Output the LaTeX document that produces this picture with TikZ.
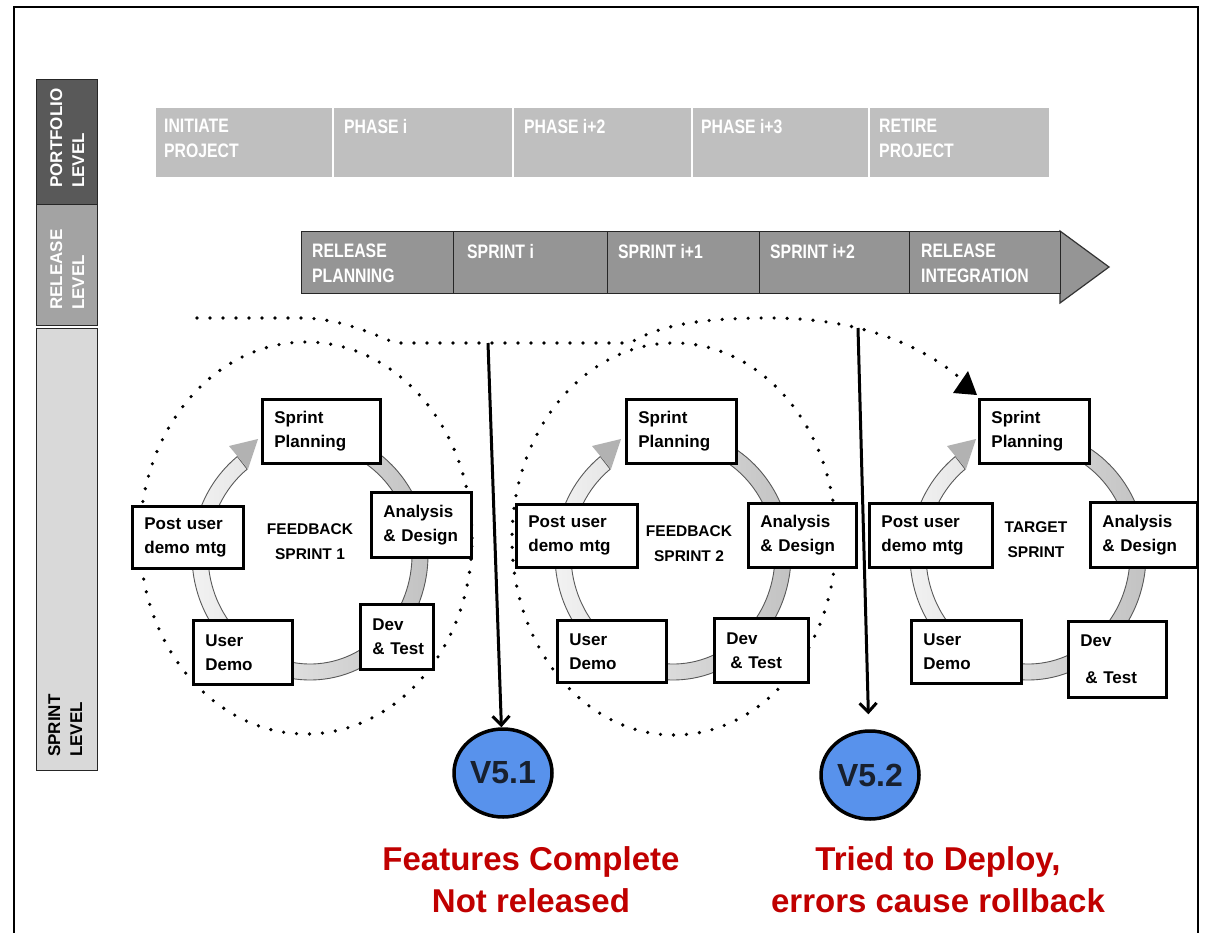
\documentclass[tikz,border=0pt]{standalone}
\usepackage{fontspec}
\setmainfont{Liberation Sans}
\newfontfamily\narrowsans[FakeStretch=0.81]{Liberation Sans}
\usetikzlibrary{shadows,arrows.meta,shapes.geometric}
\definecolor{portgray}{HTML}{595959}
\definecolor{relgray}{HTML}{A3A3A3}
\definecolor{sprgray}{HTML}{D9D9D9}
\definecolor{phasegray}{HTML}{BFBFBF}
\definecolor{bargray}{HTML}{959595}
\definecolor{vblue}{RGB}{88,146,236}
\definecolor{vtext}{HTML}{18202E}
\definecolor{darkred}{HTML}{C00000}
\begin{document}
\begin{tikzpicture}[x=1pt,y=-1pt,
  lvl/.style={draw=black!85, line width=1pt, anchor=north west, inner sep=0pt, minimum width=61pt},
  lvltxt/.style={rotate=90, anchor=north west, inner sep=0pt, align=left, font=\bfseries\fontsize{17}{22}\selectfont},
  phase/.style={fill=phasegray, draw=white, line width=1.5pt, anchor=north west, minimum height=70pt, inner sep=0pt},
  phtxt/.style={text=white, anchor=north west, inner sep=0pt, align=left, font=\narrowsans\bfseries\fontsize{19.5}{25}\selectfont},
  relseg/.style={fill=bargray, draw=black!85, line width=1.2pt, anchor=north west, minimum height=62pt, inner sep=0pt},
  cbox/.style={draw=black, line width=2.8pt, fill=white, anchor=north west, inner xsep=12pt, inner ysep=0pt, align=left, font=\bfseries\fontsize{17}{24}\selectfont, drop shadow={shadow xshift=2pt, shadow yshift=-2pt, opacity=0.3}},
  ctr/.style={anchor=north, inner sep=0pt, align=center, font=\bfseries\fontsize{15.5}{25}\selectfont},
  dotline/.style={line width=3.6pt, dash pattern=on 0pt off 13pt, line cap=round},
  ringband/.style={left color=gray!8, right color=gray!50, draw=black!65, line width=0.9pt},
  varrow/.style={line width=3pt, -{Straight Barb[length=9pt,width=17pt]}},
  vnode/.style={ellipse, draw=black, line width=3.5pt, fill=vblue, minimum width=98pt, minimum height=88pt, inner sep=0pt, text=vtext, font=\bfseries\fontsize{32}{36}\selectfont},
  redtxt/.style={anchor=north, inner sep=0pt, align=center, text=darkred, font=\bfseries\fontsize{33}{42}\selectfont},
  pics/ring/.style={code={
    \path[ringband] (128:118pt and 125pt) arc[start angle=128, end angle=440, x radius=118pt, y radius=125pt]
      -- (440:102pt and 109pt) arc[start angle=440, end angle=128, x radius=102pt, y radius=109pt] -- cycle;
    \fill[gray!60] (-81,-109) -- (-52,-116) -- (-62,-86) -- cycle;
  }}
]
\useasboundingbox (0,0) rectangle (1206,933);
\fill[white] (0,0) rectangle (1206,933);
% frame
\draw[line width=2pt] (14,945) -- (14,7) -- (1198,7) -- (1198,945);

% level column
\node[lvl, fill=portgray, minimum height=125pt] (lport) at (36,79) {};
\node[lvl, fill=relgray, minimum height=121pt] (lrel) at (36,204) {};
\node[lvl, fill=sprgray, minimum height=442pt] (lspr) at (36,328) {};
\node[lvltxt, text=white] (tport) at (50,188) {PORTFOLIO\\LEVEL};
\node[lvltxt, text=white] (trel) at (50,310) {RELEASE\\LEVEL};
\node[lvltxt, text=black] (tspr) at (48,757) {SPRINT\\LEVEL};

% portfolio phases
\node[phase, minimum width=178pt] (p1) at (154,107) {};
\node[phase, minimum width=180pt] (p2) at (332,107) {};
\node[phase, minimum width=179pt] (p3) at (512,107) {};
\node[phase, minimum width=177pt] (p4) at (691,107) {};
\node[phase, minimum width=181pt] (p5) at (868,107) {};
\node[phtxt] (tp1) at (164,119) {INITIATE\\PROJECT};
\node[phtxt] (tp2) at (344,119) {PHASE i};
\node[phtxt] (tp3) at (524,119) {PHASE i+2};
\node[phtxt] (tp4) at (701,119) {PHASE i+3};
\node[phtxt] (tp5) at (879,119) {RETIRE\\PROJECT};

% release bar
\draw[fill=bargray, draw=black!80, line width=1.2pt] (1060,231) -- (1109,267) -- (1060,303) -- cycle;
\node[relseg, minimum width=152pt] (r1) at (301,231) {};
\node[relseg, minimum width=154pt] (r2) at (453,231) {};
\node[relseg, minimum width=152pt] (r3) at (607,231) {};
\node[relseg, minimum width=150pt] (r4) at (759,231) {};
\node[relseg, minimum width=151pt] (r5) at (909,231) {};
\node[phtxt] (tr1) at (312,244) {RELEASE\\PLANNING};
\node[phtxt] (tr2) at (467,244) {SPRINT i};
\node[phtxt] (tr3) at (618,244) {SPRINT i+1};
\node[phtxt] (tr4) at (770,244) {SPRINT i+2};
\node[phtxt] (tr5) at (921,244) {RELEASE\\INTEGRATION};

% dotted circles and dotted path
\draw[dotline] (306,538) ellipse [x radius=166pt, y radius=196pt];
\draw[dotline] (674,539) ellipse [x radius=162pt, y radius=196pt];
\coordinate (d0) at (197,318);
\coordinate (d1) at (960,378);
\draw[dotline] (d0) -- (300,318) .. controls (335,318) and (365,330) .. (395,343) -- (630,343)
  .. controls (660,325) and (700,318) .. (770,318) .. controls (850,318) and (915,340) .. (d1);
\fill (953,393) -- (968,371) -- (977,395) -- cycle;

% rings
\pic at (310,555) {ring};
\pic at (673,555) {ring};
\pic at (1028,555) {ring};

% cycle 1
\node[cbox, text width=94pt, minimum height=64pt] (sp1) at (261,398) {Sprint\\Planning};
\node[cbox, text width=76pt, minimum height=65pt] (ad1) at (370,491) {Analysis\\\&~Design};
\node[cbox, text width=49pt, minimum height=65pt] (dt1) at (359,603) {Dev\\\&~Test};
\node[cbox, text width=75pt, minimum height=64pt] (ud1) at (192,619) {User\\Demo};
\node[cbox, text width=87pt, minimum height=62pt] (pu1) at (131,505) {Post~user\\demo~mtg};
\node[ctr] (c1) at (310,523) {FEEDBACK\\SPRINT 1};

% cycle 2
\node[cbox, text width=86pt, minimum height=64pt] (sp2) at (625,398) {Sprint\\Planning};
\node[cbox, text width=84pt, minimum height=64pt] (ad2) at (747,502) {Analysis\\\&~Design};
\node[cbox, text width=70pt, minimum height=64pt] (dt2) at (713,617) {Dev\\\hspace*{4pt}\&~Test};
\node[cbox, text width=85pt, minimum height=62pt] (ud2) at (556,619) {User\\Demo};
\node[cbox, text width=97pt, minimum height=63pt] (pu2) at (515,503) {Post~user\\demo~mtg};
\node[ctr] (c2) at (689,525) {FEEDBACK\\SPRINT 2};

% cycle 3
\node[cbox, text width=86pt, minimum height=64pt] (sp3) at (978,398) {Sprint\\Planning};
\node[cbox, text width=83pt, minimum height=65pt] (ad3) at (1089,501) {Analysis\\\&~Design};
\node[cbox, text width=74pt, minimum height=76pt] (dt3) at (1067,620) {Dev\\[13pt]\hspace*{5pt}\&~Test};
\node[cbox, text width=86pt, minimum height=63pt] (ud3) at (910,619) {User\\Demo};
\node[cbox, text width=99pt, minimum height=64pt] (pu3) at (868,502) {Post~user\\demo~mtg};
\node[ctr] (c3) at (1036,521) {TARGET\\SPRINT};

% versions
\node[vnode] (v51) at (503,773) {V5.1};
\node[vnode] (v52) at (870,775) {V5.2};
\coordinate (a1) at (488,343);
\coordinate (a2) at (858,328);
\draw[varrow] (a1) -- (v51);
\draw[varrow, shorten >=15pt] (a2) -- (v52);

\node[redtxt] (t51) at (531,846) {Features Complete\\Not released};
\node[redtxt] (t52) at (938,846) {Tried to Deploy,\\errors cause rollback};
\end{tikzpicture}
\end{document}
